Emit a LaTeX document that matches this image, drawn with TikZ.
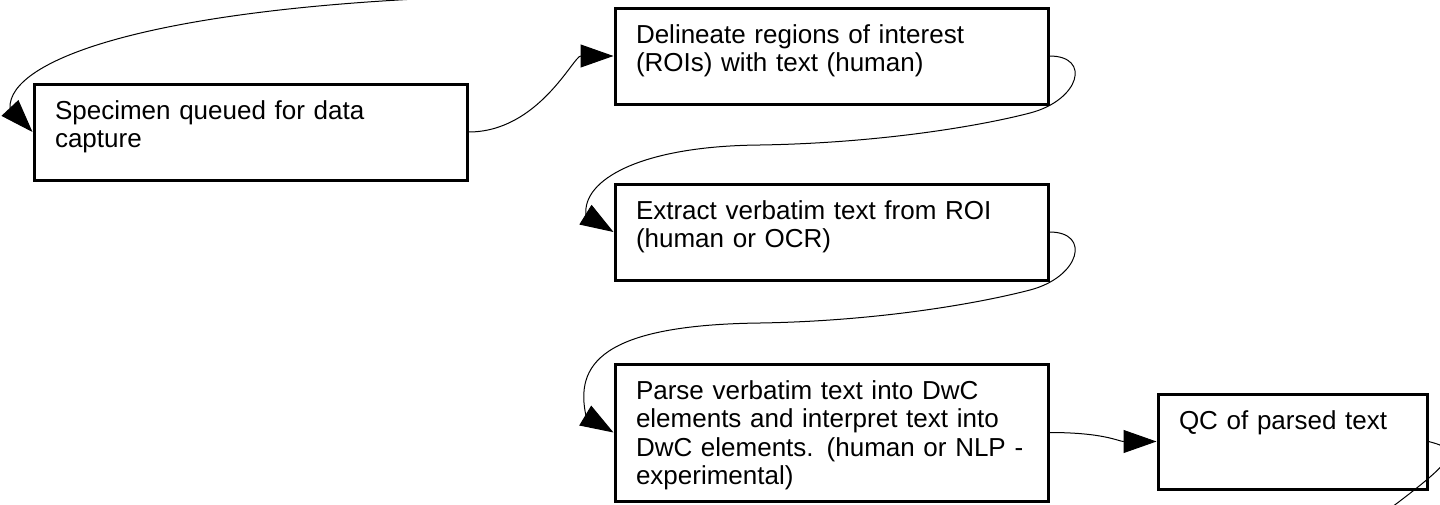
\documentclass[tikz,border=0pt]{standalone}
\usepackage{fontspec}
\setsansfont{Liberation Sans}
\usetikzlibrary{arrows.meta,positioning}

\begin{document}
\begin{tikzpicture}[x=0.5pt,y=-0.5pt,
 box/.style={draw,line width=1.5pt,anchor=north west,align=left,
   text width=195.5pt,inner xsep=10.5pt,inner ysep=8pt,
   text height=9.5pt,text depth=22.5pt,
   font=\sffamily\fontsize{13pt}{14.3pt}\selectfont},
 arrow/.style={-{Triangle[length=16.5pt,width=11.5pt]},line width=0.5pt}]
\useasboundingbox (0,0) rectangle (1440,504);
\clip (0,0) rectangle (1440,504);
\node[box] (spec) at (32.5,82.5) {Specimen queued for data\\capture};
\node[box] (roi) at (613.5,6.5) {Delineate regions of interest\\(ROIs) with text (human)};
\node[box,below=38.5pt of roi.south west,anchor=north west] (ocr) {Extract verbatim text from ROI\\(human or OCR)};
\node[box,below=40.5pt of ocr.south west,anchor=north west,text depth=43pt] (dwc)
  {Parse verbatim text into DwC\\elements and interpret text into\\DwC elements. (human or NLP -\\experimental)};
\node[box,right=53.5pt of dwc.north east,anchor=north west,yshift=-15pt,
  text width=113.5pt,text depth=22pt] (qc) {QC of parsed text};
\coordinate (prev) at (490,-4);
\coordinate (next) at (1380,516);
\draw[arrow] (prev) .. controls (150,6) and (8,60) .. (10,108) -- (spec.west);
\draw[arrow] (spec.east) .. controls +(70,0) and +(-40,0) .. (roi.west);
\draw[arrow] (roi.east) .. controls +(42,0) and (1080,100) .. (1030,113)
  .. controls (980,126) and (880,143) .. (760,145)
  .. controls (640,146) and (582,180) .. (586,215) -- (ocr.west);
\draw[arrow] (ocr.east) .. controls +(42,0) and (1080,277) .. (1030,290)
  .. controls (980,303) and (880,321) .. (760,323)
  .. controls (600,325) and (575,365) .. (586,416) -- (dwc.west);
\draw[arrow] (dwc.east) .. controls +(55,0) and +(-38,0) .. (qc.west);
\draw[line width=0.5pt] (qc.east) .. controls (1462,450) and (1458,458) .. (next);
\end{tikzpicture}
\end{document}
